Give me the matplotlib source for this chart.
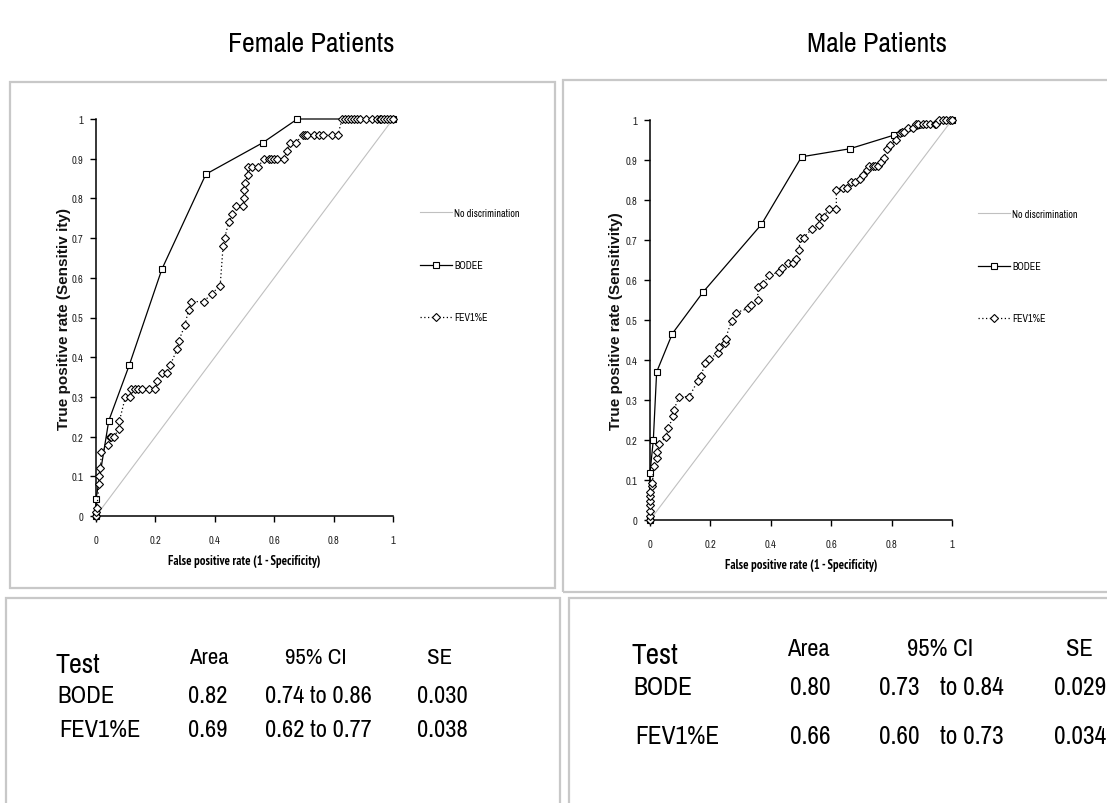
import matplotlib
matplotlib.use("Agg")
import matplotlib.pyplot as plt
from matplotlib import font_manager
from matplotlib.patches import Rectangle

# ---------------- data ----------------
female_bode_x = [0.0, 0.0, 0.043, 0.112, 0.222, 0.37, 0.561, 0.678, 1.0]
female_bode_y = [0.0, 0.042, 0.24, 0.38, 0.622, 0.861, 0.94, 1.0, 1.0]

female_fev_x = [0.0, 0.0, 0.003, 0.01, 0.01, 0.015, 0.018, 0.04, 0.046, 0.052, 0.06,
                0.079, 0.079, 0.099, 0.116, 0.118, 0.13, 0.14, 0.155, 0.177, 0.2,
                0.205, 0.222, 0.24, 0.25, 0.273, 0.278, 0.299, 0.312, 0.32, 0.362,
                0.39, 0.418, 0.428, 0.433, 0.447, 0.458, 0.472, 0.495, 0.497, 0.497,
                0.503, 0.511, 0.512, 0.525, 0.545, 0.567, 0.581, 0.589, 0.598, 0.609,
                0.632, 0.643, 0.652, 0.672, 0.697, 0.703, 0.71, 0.733, 0.75, 0.764,
                0.795, 0.815, 0.828, 0.84, 0.85, 0.86, 0.87, 0.88, 0.89, 0.91, 0.93,
                0.945, 0.955, 0.96, 0.97, 0.98, 0.99, 1.0]
female_fev_y = [0.0, 0.01, 0.02, 0.08, 0.10, 0.12, 0.16, 0.18, 0.20, 0.20, 0.20,
                0.22, 0.24, 0.30, 0.30, 0.32, 0.32, 0.32, 0.32, 0.32, 0.32,
                0.34, 0.36, 0.36, 0.38, 0.42, 0.44, 0.48, 0.52, 0.54, 0.54,
                0.56, 0.58, 0.68, 0.70, 0.74, 0.76, 0.78, 0.78, 0.80, 0.82,
                0.84, 0.86, 0.88, 0.88, 0.88, 0.90, 0.90, 0.90, 0.90, 0.90,
                0.90, 0.92, 0.94, 0.94, 0.96, 0.96, 0.96, 0.96, 0.96, 0.96,
                0.96, 0.96, 1.0, 1.0, 1.0, 1.0, 1.0, 1.0, 1.0, 1.0, 1.0,
                1.0, 1.0, 1.0, 1.0, 1.0, 1.0, 1.0]

male_bode_x = [0.0, 0.0, 0.011, 0.022, 0.074, 0.176, 0.369, 0.502, 0.661, 0.807, 1.0]
male_bode_y = [0.0, 0.118, 0.20, 0.37, 0.466, 0.57, 0.739, 0.908, 0.928, 0.962, 1.0]

male_fev_x = [0.0, 0.0, 0.0, 0.0, 0.0, 0.0, 0.0, 0.006, 0.008, 0.013, 0.022, 0.024,
              0.031, 0.053, 0.061, 0.077, 0.079, 0.096, 0.13, 0.158, 0.169, 0.182,
              0.196, 0.226, 0.228, 0.248, 0.25, 0.27, 0.284, 0.325, 0.336, 0.356,
              0.358, 0.375, 0.395, 0.427, 0.436, 0.458, 0.472, 0.485, 0.493, 0.498,
              0.509, 0.535, 0.56, 0.56, 0.575, 0.593, 0.617, 0.617, 0.64, 0.653,
              0.664, 0.678, 0.695, 0.706, 0.717, 0.726, 0.737, 0.744, 0.755, 0.766,
              0.774, 0.785, 0.796, 0.816, 0.829, 0.836, 0.84, 0.855, 0.871, 0.88,
              0.888, 0.904, 0.913, 0.926, 0.943, 0.948, 0.957, 0.97, 0.981, 0.992, 1.0]
male_fev_y = [0.0, 0.01, 0.022, 0.037, 0.048, 0.06, 0.07, 0.085, 0.093, 0.135, 0.156, 0.17,
              0.19, 0.208, 0.23, 0.26, 0.275, 0.308, 0.308, 0.348, 0.36, 0.392,
              0.402, 0.418, 0.433, 0.442, 0.453, 0.498, 0.518, 0.529, 0.538, 0.549,
              0.583, 0.591, 0.612, 0.62, 0.631, 0.643, 0.643, 0.653, 0.674, 0.706,
              0.706, 0.727, 0.737, 0.758, 0.758, 0.778, 0.778, 0.825, 0.831, 0.831,
              0.845, 0.845, 0.852, 0.862, 0.874, 0.885, 0.885, 0.885, 0.885, 0.895,
              0.906, 0.928, 0.938, 0.949, 0.968, 0.971, 0.971, 0.98, 0.98, 0.989,
              0.989, 0.989, 0.989, 0.989, 0.989, 0.989, 1.0, 1.0, 1.0, 1.0, 1.0]

diag = [0.0, 1.0]
tick_vals_x = [0, 0.2, 0.4, 0.6, 0.8, 1]
tick_labels_x = ["0", "0.2", "0.4", "0.6", "0.8", "1"]
tick_vals_y = [0, 0.1, 0.2, 0.3, 0.4, 0.5, 0.6, 0.7, 0.8, 0.9, 1]
tick_labels_y = ["0", "0.1", "0.2", "0.3", "0.4", "0.5", "0.6", "0.7", "0.8", "0.9", "1"]

titles = ["Female Patients", "Male Patients"]
legend_labels = ["No discrimination", "BODEE", "FEV1%E"]
ylabels = ["True positive rate (Sensitiv ity)", "True positive rate (Sensitivity)"]
xlabel = "False positive rate (1 - Specificity)"

table_header = ["Test", "Area", "95% CI", "SE"]
female_table = [["BODE", "0.82", "0.74 to 0.86", "0.030"],
                ["FEV1%E", "0.69", "0.62 to 0.77", "0.038"]]
male_table = [["BODE", "0.80", "0.73", "to 0.84", "0.029"],
              ["FEV1%E", "0.66", "0.60", "to 0.73", "0.034"]]

# ---------------- fonts ----------------
fl = font_manager.fontManager.ttflist


def pick(cands, bold=False):
    for c in cands:
        for f in fl:
            if f.name == c and (not bold or f.weight in (700, "bold")):
                if bold and "[" in f.fname:
                    continue
                return c
    return "DejaVu Sans"


REG = pick(["Liberation Sans Narrow", "Arial Narrow", "Nimbus Sans Narrow",
            "Archivo Narrow", "Roboto Condensed", "PT Sans Narrow",
            "Fira Sans Condensed"])
BOLD = pick(["Liberation Sans Narrow", "Arial Narrow", "Nimbus Sans Narrow",
             "PT Sans Narrow", "Roboto Condensed", "Asap Condensed",
             "Fira Sans Condensed"], bold=True)
YBOLD = pick(["Liberation Sans", "Arimo", "DejaVu Sans"], bold=True)
plt.rcParams["font.family"] = [REG, "DejaVu Sans"]

W, H = 1107, 804
fig = plt.figure(figsize=(W / 100, H / 100), dpi=100)
fig.patch.set_facecolor("white")
renderer = fig.canvas.get_renderer()


def fx(px):
    return px / W


def fy(py):
    return 1 - py / H


def size_for(s, target_w, family, weight="normal"):
    t = fig.text(0, 0, s, fontsize=10, family=family, fontweight=weight)
    w = t.get_window_extent(renderer).width
    t.remove()
    return 10 * target_w / w


def box(x0, y0, x1, y1):
    r = Rectangle((fx(x0), fy(y1)), fx(x1) - fx(x0), fy(y0) - fy(y1),
                  transform=fig.transFigure, fill=False, edgecolor="#c8c8c8",
                  linewidth=1.6, clip_on=False)
    fig.patches.append(r)


box(10, 83, 555, 589)
box(563, 81, 1112, 593)
box(6, 599, 560, 812)
box(569, 599, 1112, 812)

tick_fs = size_for("0.2", 11.8, [REG])
leg_fs = size_for("No discrimination", 65, [REG])
xl_fs = size_for(xlabel, 152, [BOLD], "bold")
yl_fs = size_for(ylabels[1], 218, [YBOLD], "bold")


def roc_axes(rect_px, bx, by, fxv, fyv, ylabel, legend_px, ylab_x, xlab_y):
    x0, y0, x1, y1 = rect_px
    ax = fig.add_axes([fx(x0), fy(y1), fx(x1) - fx(x0), fy(y0) - fy(y1)])
    ax.set_xlim(0, 1)
    ax.set_ylim(0, 1)
    ax.patch.set_alpha(0)
    for s in ["top", "right"]:
        ax.spines[s].set_visible(False)
    for s in ["left", "bottom"]:
        ax.spines[s].set_linewidth(1.1)
    ax.plot(diag, diag, color="#c0c0c0", lw=0.8, label=legend_labels[0], zorder=1)
    ax.plot(bx, by, color="black", lw=0.9, marker="s", ms=4.2, mfc="white",
            mec="black", mew=0.8, label=legend_labels[1], clip_on=False, zorder=3)
    ax.plot(fxv, fyv, color="black", lw=0.9, ls=(0, (1, 2)), marker="D", ms=3.8,
            mfc="white", mec="black", mew=0.8, label=legend_labels[2],
            clip_on=False, zorder=4)
    ax.set_xticks(tick_vals_x)
    ax.set_xticklabels(tick_labels_x)
    ax.set_yticks(tick_vals_y)
    ax.set_yticklabels(tick_labels_y)
    ax.tick_params(axis="x", length=4, width=1.0, labelsize=tick_fs, pad=10,
                   labelcolor="#222222")
    ax.tick_params(axis="y", length=4, width=1.0, labelsize=tick_fs, pad=5,
                   labelcolor="#222222")
    ax.set_xlabel(xlabel, fontsize=xl_fs, fontweight="bold", family=[BOLD, "DejaVu Sans"])
    ax.xaxis.set_label_coords(0.5, (y1 - xlab_y) / (y1 - y0))
    ax.xaxis.label.set_va("center")
    ax.set_ylabel(ylabel, fontsize=yl_fs, fontweight="bold", family=[YBOLD, "DejaVu Sans"],
                  color="#111111")
    ax.yaxis.set_label_coords((ylab_x - x0) / (x1 - x0), 0.5)
    ax.yaxis.label.set_va("center")
    lx, ly = legend_px
    em = leg_fs * 100 / 72
    ax.legend(loc="center left", bbox_to_anchor=(fx(lx), fy(ly)),
              bbox_transform=fig.transFigure, frameon=False, fontsize=leg_fs,
              handlelength=32 / em, handletextpad=0.2,
              labelspacing=(52 - em) / em,
              borderpad=0, borderaxespad=0, numpoints=1)
    return ax


roc_axes((96, 120, 393, 517), female_bode_x, female_bode_y, female_fev_x,
         female_fev_y, ylabels[0], (420, 266), 64, 562)
roc_axes((650, 121, 952, 521), male_bode_x, male_bode_y, male_fev_x,
         male_fev_y, ylabels[1], (978, 267), 616, 566)

# titles
title_fs = size_for(titles[0], 168, [REG])
fig.text(fx(311), fy(45), titles[0], ha="center", va="center", fontsize=title_fs)
fig.text(fx(877), fy(45), titles[1], ha="center", va="center", fontsize=title_fs)

# female table
fs_h = size_for("Area", 40, [REG])
fs_t = size_for("Test", 45, [REG])
fs_r = size_for("0.74 to 0.86", 105, [REG])
fig.text(fx(55), fy(673), table_header[0], ha="left", va="baseline", fontsize=fs_t)
fig.text(fx(209), fy(664), table_header[1], ha="center", va="baseline", fontsize=fs_h)
fig.text(fx(316), fy(664), table_header[2], ha="center", va="baseline", fontsize=fs_h)
fig.text(fx(440), fy(664), table_header[3], ha="center", va="baseline", fontsize=fs_h)
row_base = [703, 737]
row_x0 = [57, 59]
for i, row in enumerate(female_table):
    yb = fy(row_base[i])
    fig.text(fx(row_x0[i]), yb, row[0], ha="left", va="baseline", fontsize=fs_r)
    fig.text(fx(208), yb, row[1], ha="center", va="baseline", fontsize=fs_r)
    fig.text(fx(265), yb, row[2], ha="left", va="baseline", fontsize=fs_r)
    fig.text(fx(442), yb, row[3], ha="center", va="baseline", fontsize=fs_r)

# male table
fs_h2 = size_for("Area", 43, [REG])
fs_t2 = size_for("Test", 47, [REG])
fs_r2 = size_for("to 0.84", 63, [REG])
fig.text(fx(632), fy(664), table_header[0], ha="left", va="baseline", fontsize=fs_t2)
fig.text(fx(808), fy(656), table_header[1], ha="center", va="baseline", fontsize=fs_h2)
fig.text(fx(940), fy(656), table_header[2], ha="center", va="baseline", fontsize=fs_h2)
fig.text(fx(1079), fy(656), table_header[3], ha="center", va="baseline", fontsize=fs_h2)
row_base2 = [695, 744]
row_x02 = [633, 635]
for i, row in enumerate(male_table):
    yb = fy(row_base2[i])
    fig.text(fx(row_x02[i]), yb, row[0], ha="left", va="baseline", fontsize=fs_r2)
    fig.text(fx(810), yb, row[1], ha="center", va="baseline", fontsize=fs_r2)
    fig.text(fx(899), yb, row[2], ha="center", va="baseline", fontsize=fs_r2)
    fig.text(fx(940), yb, row[3], ha="left", va="baseline", fontsize=fs_r2)
    fig.text(fx(1054), yb, row[4], ha="left", va="baseline", fontsize=fs_r2)

fig.savefig("out.png", dpi=100, facecolor="white")
